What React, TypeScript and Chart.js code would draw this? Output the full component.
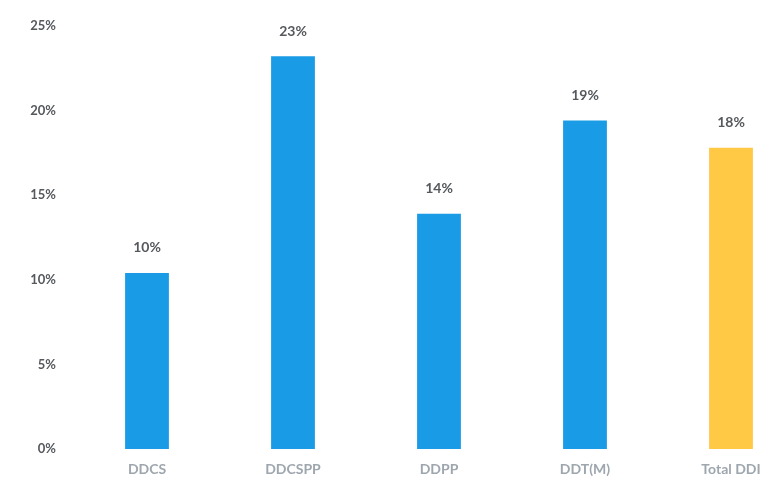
import React, { useEffect, useRef } from "react";
import { Chart, registerables } from "chart.js";

Chart.register(...registerables);

const categories = ["DDCS", "DDCSPP", "DDPP", "DDT(M)", "Total DDI"];
const values = [10.4, 23.2, 13.9, 19.4, 17.8];
const labels = ["10%", "23%", "14%", "19%", "18%"];
const barColors = ["#1a9be6", "#1a9be6", "#1a9be6", "#1a9be6", "#ffc845"];
const yTicks = [0, 5, 10, 15, 20, 25];

const valueLabelPlugin = {
  id: "valueLabels",
  afterDatasetsDraw(chart: any) {
    const { ctx } = chart;
    const meta = chart.getDatasetMeta(0);
    ctx.save();
    ctx.font = "bold 14px Lato, 'Open Sans', sans-serif";
    ctx.fillStyle = "#55585c";
    ctx.textAlign = "center";
    ctx.textBaseline = "middle";
    meta.data.forEach((bar: any, i: number) => {
      ctx.fillText(labels[i], bar.x, bar.y - 25);
    });
    ctx.restore();
  },
};

export default function App() {
  const ref = useRef<HTMLCanvasElement>(null);
  useEffect(() => {
    if (!ref.current) return;
    const chart = new Chart(ref.current, {
      type: "bar",
      data: {
        labels: categories,
        datasets: [
          {
            data: values,
            backgroundColor: barColors,
            barPercentage: 0.3,
            categoryPercentage: 1,
          },
        ],
      },
      options: {
        responsive: false,
        animation: false,
        layout: { padding: { top: 23, right: 26, left: 4, bottom: 0 } },
        plugins: { legend: { display: false }, tooltip: { enabled: false } },
        scales: {
          x: {
            grid: { display: false, drawTicks: false },
            border: { display: false },
            ticks: {
              color: "#9ea6ae",
              font: { family: "Lato, 'Open Sans', sans-serif", size: 14, weight: "bold" },
              padding: 12,
            },
            afterFit: (s: any) => {
              s.height = 33;
            },
          },
          y: {
            min: 0,
            max: 25,
            grid: { display: false, drawTicks: false },
            border: { display: false },
            afterBuildTicks: (s: any) => {
              s.ticks = yTicks.map((v) => ({ value: v }));
            },
            ticks: {
              color: "#55585c",
              font: { family: "Lato, 'Open Sans', sans-serif", size: 13, weight: "bold" },
              padding: 18,
              callback: (v: any) => v + "%",
            },
            afterFit: (s: any) => {
              s.width = 70;
            },
          },
        },
      },
      plugins: [valueLabelPlugin],
    });
    return () => chart.destroy();
  }, []);
  return (
    <div
      style={{
        position: "fixed",
        left: 0,
        top: 0,
        width: 784,
        height: 482,
        overflow: "hidden",
        background: "#fff",
      }}
    >
      <canvas ref={ref} width={830} height={482} style={{ display: "block" }} />
    </div>
  );
}
